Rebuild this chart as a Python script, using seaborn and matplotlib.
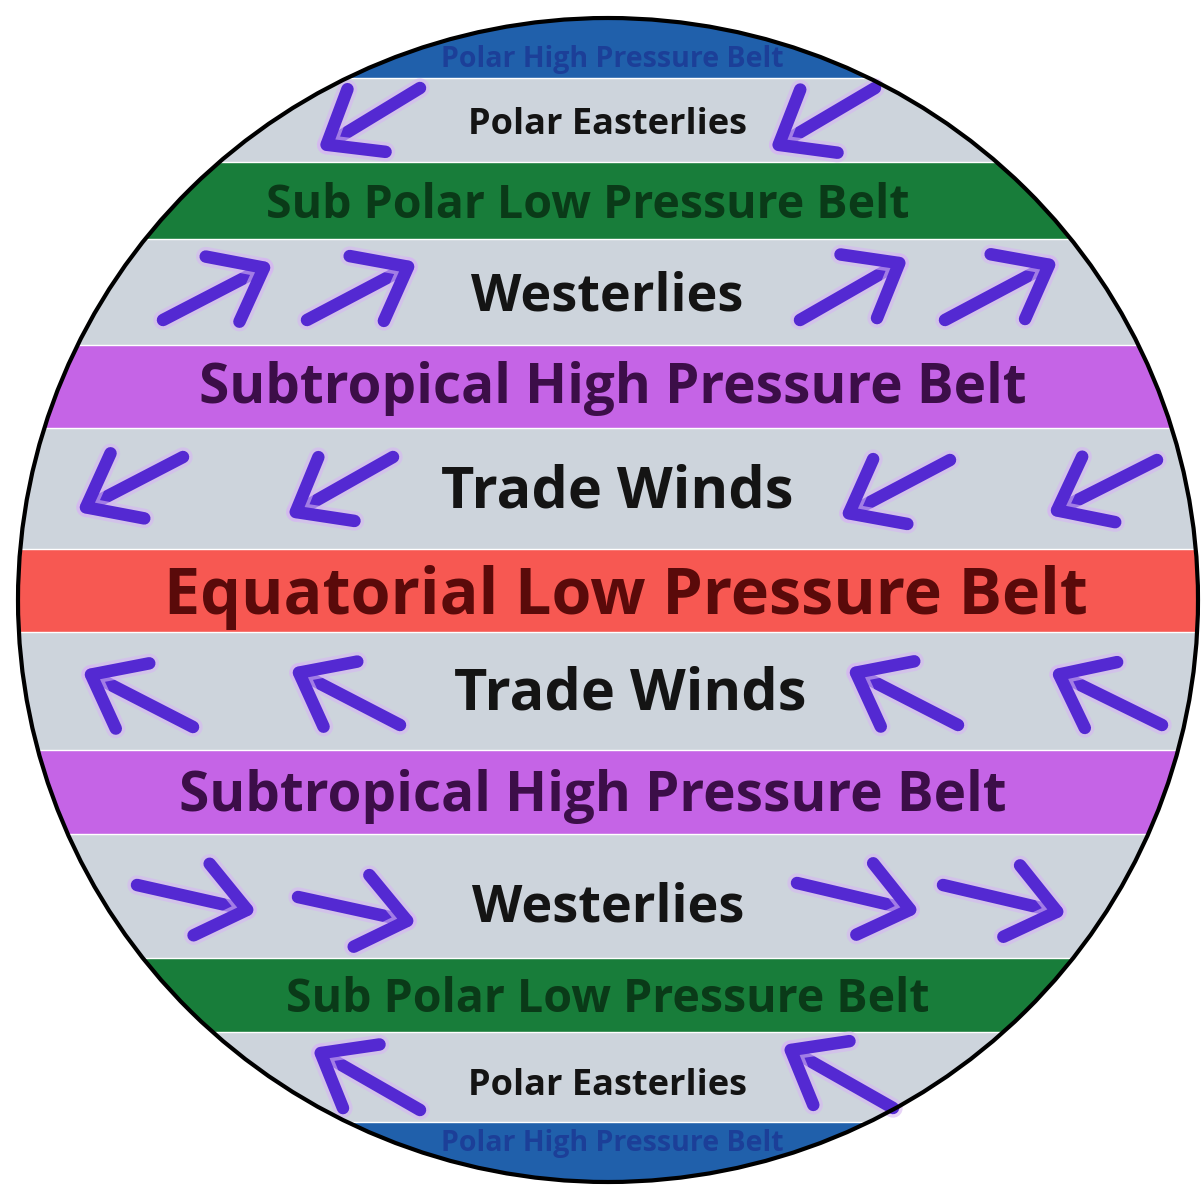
import matplotlib
matplotlib.use("Agg")
import matplotlib.pyplot as plt
import matplotlib.patheffects as pe
from matplotlib.patches import Ellipse
import seaborn as sns

sns.set_theme(style="white")
plt.rcParams['font.family'] = ['Open Sans', 'DejaVu Sans']

# pressure belts, top to bottom (pixel rows of the picture)
belt_names = ["Polar High Pressure Belt", "Sub Polar Low Pressure Belt",
              "Subtropical High Pressure Belt", "Equatorial Low Pressure Belt",
              "Subtropical High Pressure Belt", "Sub Polar Low Pressure Belt",
              "Polar High Pressure Belt"]
belt_top = [0, 162, 345, 549, 750, 958, 1122]
belt_bottom = [78, 239, 428, 632, 834, 1032, 1185]
belt_colors = ["#2060ab", "#187d3a", "#c564e6", "#f75852", "#c564e6", "#187d3a", "#2060ab"]
belt_text_colors = ["#1c3f98", "#0a3a18", "#3c0e48", "#5a0a0a", "#3c0e48", "#0a3a18", "#1c3f98"]
belt_text_x = [612, 588, 613, 626, 593, 608, 612]
belt_text_y = [60, 205, 388, 597, 797, 999, 1143]
belt_font = [20.5, 33.5, 39.5, 46.5, 39.5, 33.5, 20.5]

# wind zones (grey bands between the belts)
wind_names = ["Polar Easterlies", "Westerlies", "Trade Winds",
              "Trade Winds", "Westerlies", "Polar Easterlies"]
wind_text_x = [607, 607, 617, 630, 608, 607]
wind_text_y = [125, 297, 492, 694, 908, 1086]
wind_font = [26, 37.5, 41.5, 41.5, 37.5, 26]

# arrows (tail -> tip)
arrow_tail = [(420, 88), (875, 88),
              (163, 320), (307, 320), (800, 320), (945, 320),
              (183, 457), (393, 457), (950, 460), (1157, 460),
              (193, 727), (400, 725), (958, 725), (1162, 725),
              (137, 885), (298, 897), (797, 883), (943, 885),
              (420, 1110), (893, 1108)]
arrow_tip = [(318, 150), (770, 150),
             (273, 263), (417, 262), (908, 258), (1058, 260),
             (77, 512), (287, 517), (840, 518), (1048, 515),
             (82, 670), (290, 668), (847, 668), (1050, 670),
             (257, 912), (417, 923), (920, 912), (1067, 914),
             (312, 1048), (782, 1045)]

grey = "#cdd4dc"
arrow_color = "#5429d2"

fig = plt.figure(figsize=(12.01, 11.85), dpi=100)
ax = fig.add_axes([0, 0, 1, 1])
ax.set_xlim(0, 1201)
ax.set_ylim(1185, 0)
ax.axis("off")

globe = Ellipse((608, 600), 1180, 1164, facecolor=grey, edgecolor="none", zorder=1)
ax.add_patch(globe)

for top, bottom, color in zip(belt_top, belt_bottom, belt_colors):
    bars = ax.barh(y=(top + bottom) / 2, width=1201, height=bottom - top, left=0,
                   color=color, zorder=2)
    bars[0].set_clip_path(globe)

for name, x, y, size, color in zip(belt_names, belt_text_x, belt_text_y, belt_font, belt_text_colors):
    t = ax.text(x, y, name, ha="center", va="center", fontsize=size,
                fontweight="bold", color=color, zorder=5)
    t.set_clip_path(globe)

for name, x, y, size in zip(wind_names, wind_text_x, wind_text_y, wind_font):
    ax.text(x, y, name, ha="center", va="center", fontsize=size,
            fontweight="bold", color="#141414", zorder=5)

for tail, tip in zip(arrow_tail, arrow_tip):
    ann = ax.annotate("", xy=tip, xytext=tail, zorder=6,
                      arrowprops=dict(arrowstyle="->,head_length=2.8,head_width=2.2",
                                      lw=9, color=arrow_color,
                                      shrinkA=0, shrinkB=0))
    ann.arrow_patch.set_path_effects([pe.Stroke(linewidth=14, foreground="#d7b6f3", alpha=0.6),
                                      pe.Normal()])

outline = Ellipse((608, 600), 1180, 1164, fill=False, edgecolor="black", lw=3, zorder=8)
ax.add_patch(outline)

fig.savefig("out.png", dpi=100, facecolor="white")
